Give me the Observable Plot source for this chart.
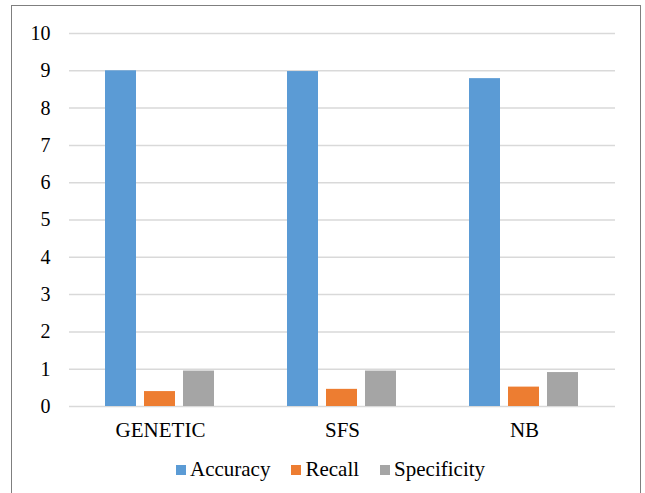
<!DOCTYPE html>
<html><head><meta charset="utf-8">
<script src="https://cdn.jsdelivr.net/npm/d3@7"></script>
<script src="https://cdn.jsdelivr.net/npm/@observablehq/plot@0.6"></script>
<style>
html,body{margin:0;padding:0;overflow:hidden;background:#fff;}
#wrap{position:relative;width:645px;height:493px;overflow:hidden;color:#000;}
#frame{position:absolute;left:11px;top:5px;width:630px;height:520px;border:1px solid #7f7f7f;box-sizing:border-box;}
#chart{position:absolute;left:0;top:0;}
#legend{position:absolute;left:176px;top:457px;display:flex;align-items:center;white-space:nowrap;}
#legend .item{display:flex;align-items:center;margin-right:21px;}
#legend .sw{width:10px;height:10px;margin-right:4px;}
</style>
</head><body>
<div id="wrap"><div id="frame"></div><div id="chart"></div><div id="legend"></div></div>
<script>
const groups = ["GENETIC", "SFS", "NB"];
const series = ["Accuracy", "Recall", "Specificity"];
const accuracy = [9.0, 8.98, 8.79];
const recall = [0.40, 0.46, 0.52];
const specificity = [0.95, 0.95, 0.91];
const colors = ["#5b9bd5", "#ed7d31", "#a5a5a5"];
const yTicks = [0, 1, 2, 3, 4, 5, 6, 7, 8, 9, 10];

// pick an installed Times-like serif font if any
function hasFont(name) {
  const c = document.createElement("canvas").getContext("2d");
  const s = "GENETIC Specificity 0123456789 mmmwwwiii";
  return ["monospace", "sans-serif"].every(base => {
    c.font = `40px ${base}`; const w0 = c.measureText(s).width;
    c.font = `40px "${name}", ${base}`; const w1 = c.measureText(s).width;
    return Math.abs(w0 - w1) > 0.5;
  });
}
const serifCandidates = ["Liberation Serif", "Tinos", "Times New Roman", "Nimbus Roman", "DejaVu Serif", "Noto Serif", "FreeSerif"];
const serif = serifCandidates.find(hasFont);
const fontFamily = serif ? `"${serif}", serif` : `"Liberation Sans", Arial, sans-serif`;
const sizes = serif ? {tick: 20, cat: 21, legend: 21} : {tick: 19, cat: 20, legend: 19.5};

document.getElementById("wrap").style.fontFamily = fontFamily;

const valuesBySeries = [accuracy, recall, specificity];
const data = [];
groups.forEach((g, i) => series.forEach((s, j) => data.push({group: g, series: s, value: valuesBySeries[j][i]})));

const chart = Plot.plot({
  width: 645, height: 450,
  marginLeft: 68, marginRight: 30, marginTop: 33, marginBottom: 44,
  style: {fontFamily, color: "#000", background: "transparent"},
  fx: {domain: groups, padding: 0, label: null},
  x: {domain: series, paddingInner: 0.2, paddingOuter: 0.9, axis: null},
  y: {domain: [0, 10], label: null},
  color: {domain: series, range: colors},
  marks: [
    Plot.ruleY(yTicks, {stroke: "#d9d9d9", strokeWidth: 1.5}),
    Plot.barY(data, {fx: "group", x: "series", y: "value", fill: "series"}),
    Plot.axisY(yTicks, {tickSize: 0, tickPadding: 19, fontSize: sizes.tick, label: null, fill: "#000"}),
    Plot.axisFx({anchor: "bottom", tickSize: 0, tickPadding: 16, fontSize: sizes.cat, label: null, fill: "#000"})
  ]
});
document.getElementById("chart").appendChild(chart);

const legend = document.getElementById("legend");
legend.style.fontSize = sizes.legend + "px";
series.forEach((s, j) => {
  const it = document.createElement("div");
  it.className = "item";
  const sw = document.createElement("div");
  sw.className = "sw";
  sw.style.background = colors[j];
  const t = document.createElement("span");
  t.textContent = s;
  it.appendChild(sw); it.appendChild(t);
  legend.appendChild(it);
});
</script>
</body></html>
